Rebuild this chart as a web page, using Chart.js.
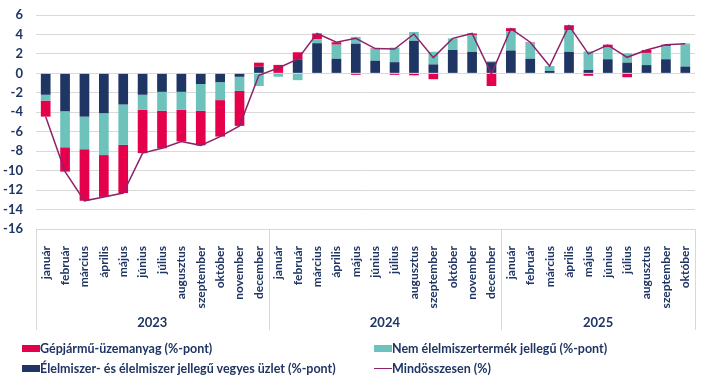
<!DOCTYPE html>
<html>
<head>
<meta charset="utf-8">
<script src="https://cdn.jsdelivr.net/npm/chart.js@4"></script>
<style>
  html, body { margin: 0; padding: 0; background: #ffffff; }
  #wrap { position: relative; width: 710px; height: 381px; overflow: hidden; }
  #legend { position: absolute; left: 0; top: 0; width: 710px; height: 381px; pointer-events: none;
            font-family: Lato, "Open Sans", sans-serif; font-weight: bold; font-size: 12.5px; color: #1F3564; }
  .item { position: absolute; display: flex; align-items: center; height: 16px; white-space: nowrap; }
  .sym { width: 18px; height: 7px; margin-right: 0px; flex: none; }
  .lsym { width: 18px; height: 0; border-top: 1.5px solid #8E236B; flex: none; }
</style>
</head>
<body>
<div id="wrap">
  <canvas id="c" width="710" height="381"></canvas>
  <div id="legend"></div>
</div>
<script>
const months = ["január","február","március","április","május","június","július","augusztus","szeptember","október","november","december",
                "január","február","március","április","május","június","július","augusztus","szeptember","október","november","december",
                "január","február","március","április","május","június","július","augusztus","szeptember","október"];
const years = ["2023","2024","2025"];
const yearStart = [0, 12, 24];
const yearEnd = [12, 24, 34];

const food = [-2.2, -3.9, -4.45, -4.1, -3.2, -2.2, -1.9, -1.9, -1.1, -0.9, -0.35, 0.68,
              0.05, 1.45, 3.1, 1.5, 3.05, 1.3, 1.15, 3.35, 0.92, 2.4, 2.2, 1.15,
              2.35, 1.5, 0.25, 2.2, 0.35, 1.45, 1.1, 0.85, 1.45, 0.7];
const nonFood = [-0.6, -3.7, -3.35, -4.3, -4.15, -1.55, -1.95, -1.85, -2.75, -1.85, -1.45, -1.3,
                 -0.35, -0.7, 0.4, 1.45, 0.7, 1.2, 1.5, 0.9, 1.3, 1.2, 1.75, 0.1,
                 2.0, 1.65, 0.5, 2.25, 1.9, 1.2, 0.95, 1.25, 1.35, 2.3];
const fuel = [-1.65, -2.5, -5.3, -4.3, -4.95, -4.45, -3.85, -3.25, -3.55, -3.75, -3.6, 0.42,
              0.82, 0.72, 0.6, 0.25, -0.15, 0.05, -0.15, -0.2, -0.6, 0.0, 0.15, -1.3,
              0.3, 0.05, 0.0, 0.5, -0.25, 0.3, -0.4, 0.3, 0.15, 0.05];
const total = [-4.45, -10.1, -13.1, -12.7, -12.3, -8.2, -7.7, -7.0, -7.4, -6.5, -5.4, -0.2,
               0.55, 1.45, 4.1, 3.2, 3.6, 2.55, 2.5, 4.05, 1.62, 3.6, 4.1, -0.05,
               4.6, 3.2, 0.75, 4.9, 2.0, 2.9, 1.65, 2.4, 2.95, 3.05];
const yTicksMin = -16, yTicksMax = 6, yStep = 2;

const NAVY = "#1F3564", TEAL = "#6DC3BC", RED = "#E5004C", LINE = "#8E236B";
const FONT = "Lato, 'Open Sans', sans-serif";

const yearPlugin = {
  id: "yearGroups",
  afterDraw(chart) {
    const x = chart.scales.x;
    const ctx = chart.ctx;
    const top = chart.chartArea.bottom;
    const bottom = top + 101;
    const edge = (i) => {
      if (i <= 0) return x.left;
      if (i >= months.length) return x.right;
      return (x.getPixelForValue(i - 1) + x.getPixelForValue(i)) / 2;
    };
    ctx.save();
    ctx.strokeStyle = "#d9d9d9";
    ctx.lineWidth = 1;
    const bounds = [0, 12, 24, 34];
    bounds.forEach(b => {
      const px = Math.round(edge(b)) + 0.5;
      ctx.beginPath();
      ctx.moveTo(px, top);
      ctx.lineTo(px, bottom);
      ctx.stroke();
    });
    ctx.fillStyle = NAVY;
    ctx.font = "bold 13px " + FONT;
    ctx.textAlign = "center";
    ctx.textBaseline = "middle";
    years.forEach((y, k) => {
      const cx = (edge(yearStart[k]) + edge(yearEnd[k])) / 2;
      ctx.fillText(y, cx, top + 94);
    });
    ctx.restore();
  }
};

const chart = new Chart(document.getElementById("c"), {
  data: {
    labels: months,
    datasets: [
      { type: "line", label: "Mindösszesen (%)", data: total, borderColor: LINE, backgroundColor: LINE,
        borderWidth: 1.5, pointRadius: 0, tension: 0, stack: "line", order: 0 },
      { type: "bar", label: "Élelmiszer- és élelmiszer jellegű vegyes üzlet (%-pont)", data: food,
        backgroundColor: NAVY, stack: "s", order: 1 },
      { type: "bar", label: "Nem élelmiszertermék jellegű (%-pont)", data: nonFood,
        backgroundColor: TEAL, stack: "s", order: 1 },
      { type: "bar", label: "Gépjármű-üzemanyag (%-pont)", data: fuel,
        backgroundColor: RED, stack: "s", order: 1 }
    ]
  },
  options: {
    responsive: false,
    animation: false,
    layout: { padding: { top: 15, left: 0, right: 15, bottom: 47 } },
    datasets: { bar: { categoryPercentage: 1.0, barPercentage: 0.5 } },
    plugins: { legend: { display: false }, tooltip: { enabled: false } },
    scales: {
      x: {
        stacked: true,
        grid: { display: false },
        border: { display: false },
        ticks: { autoSkip: false, minRotation: 90, maxRotation: 90, padding: 9,
                 color: NAVY, font: { family: FONT, weight: "bold", size: 12 } },
        afterFit(s) { s.height = 105; }
      },
      y: {
        stacked: true,
        min: yTicksMin, max: yTicksMax,
        ticks: { stepSize: yStep, padding: 13, color: NAVY, font: { family: FONT, weight: "bold", size: 13 } },
        grid: { color: "#d9d9d9", drawTicks: false },
        border: { display: false },
        afterFit(s) { s.width = 36; s.paddingTop = 0; s.paddingBottom = 0; }
      }
    }
  },
  plugins: [yearPlugin]
});

// HTML legend built from the chart's datasets
const legendOrder = [3, 2, 1, 0];
const legendPos = [[22, 340], [374, 340], [22, 360], [374, 360]];
const lg = document.getElementById("legend");
legendOrder.forEach((di, k) => {
  const ds = chart.data.datasets[di];
  const item = document.createElement("div");
  item.className = "item";
  item.style.left = legendPos[k][0] + "px";
  item.style.top = legendPos[k][1] + "px";
  const sym = document.createElement("span");
  if (ds.type === "line") { sym.className = "lsym"; }
  else { sym.className = "sym"; sym.style.background = ds.backgroundColor; }
  const txt = document.createElement("span");
  txt.textContent = ds.label;
  item.appendChild(sym);
  item.appendChild(txt);
  lg.appendChild(item);
});
</script>
</body>
</html>
